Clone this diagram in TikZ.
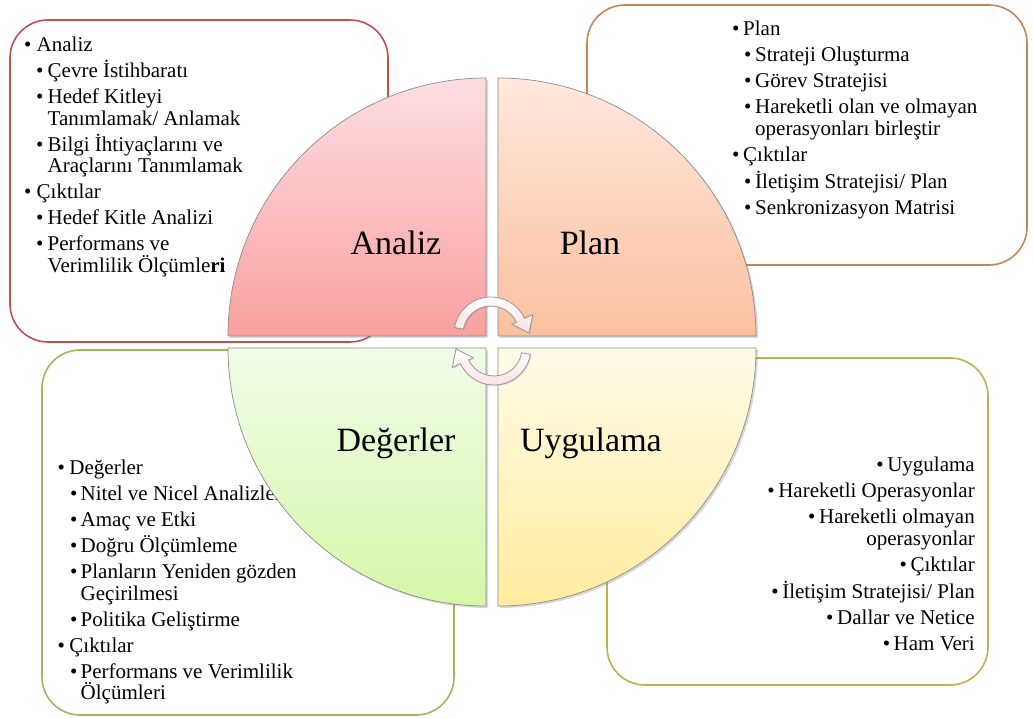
\documentclass[tikz,border=0pt]{standalone}
\usepackage{fontspec}
\setmainfont{Liberation Serif}
\usetikzlibrary{positioning}
\usetikzlibrary{shadows}

\definecolor{boxred}{RGB}{192,80,77}
\definecolor{boxorange}{RGB}{198,134,82}
\definecolor{boxgreen}{RGB}{155,187,89}
\definecolor{boxolive}{RGB}{190,178,80}
\definecolor{anaTop}{RGB}{253,222,226}
\definecolor{anaBot}{RGB}{250,160,160}
\definecolor{plaTop}{RGB}{255,232,222}
\definecolor{plaBot}{RGB}{250,192,158}
\definecolor{degTop}{RGB}{240,251,232}
\definecolor{degBot}{RGB}{214,247,168}
\definecolor{uygTop}{RGB}{255,251,232}
\definecolor{uygBot}{RGB}{255,236,158}
\definecolor{arrowPink}{RGB}{250,222,228}

\newlength{\bulwidth}\newlength{\subindent}\newlength{\subwidth}
\newcommand{\toppoint}[1]{\hangindent=\bulwidth\hangafter=1\noindent\makebox[\bulwidth][l]{•}#1\par}
\newcommand{\subpoint}[1]{\hangindent=\dimexpr\subindent+\subwidth\relax\hangafter=1\noindent\hspace*{\subindent}\makebox[\subwidth][l]{•}#1\par}
\newcommand{\rightpoint}[1]{\noindent\makebox[11pt][l]{•}#1\par}

\tikzstyle{infobox} = [rounded corners=38pt, line width=1.6pt, fill=white]
\tikzstyle{bullettext} = [inner sep=0pt, align=flush left, font=\fontsize{21}{21.5}\selectfont]
\tikzstyle{quadrant} = [draw=black!45, line width=0.7pt, drop shadow={opacity=0.3, shadow xshift=2pt, shadow yshift=-2pt}]
\tikzstyle{biglabel} = [inner sep=0pt, anchor=base, font=\fontsize{34}{40}\selectfont]
\tikzstyle{cyclearrow} = [draw=black!40, line width=0.8pt, top color=white, bottom color=arrowPink, drop shadow={opacity=0.25, shadow xshift=1pt, shadow yshift=-1pt}]

\begin{document}
\begin{tikzpicture}[x=1pt,y=1pt]
\useasboundingbox (0,0) rectangle (1033,718);
\fill[white] (0,0) rectangle (1033,718);

% boxes
\draw[infobox, draw=boxred] (10,376) rectangle (388,698);
\draw[infobox, draw=boxorange] (587,453) rectangle (1027,713);
\draw[infobox, draw=boxgreen] (42,3) rectangle (454,368);
\draw[infobox, draw=boxolive] (607,33) rectangle (988,360);

\node[bullettext, text width=240pt, anchor=base west] (txtAnaliz) at (24,666) {%
\setlength{\parskip}{4.5pt}\setlength{\bulwidth}{12.5pt}\setlength{\subindent}{12pt}\setlength{\subwidth}{11.5pt}%
\toppoint{Analiz}
\subpoint{Çevre İstihbaratı}
\subpoint{Hedef Kitleyi\newline Tanımlamak/ Anlamak}
\subpoint{Bilgi İhtiyaçlarını ve\newline Araçlarını Tanımlamak}
\toppoint{Çıktılar}
\subpoint{Hedef Kitle Analizi}
\subpoint{Performans ve\newline Verimlilik Ölçümle\textbf{ri}}};

\node[bullettext, text width=270pt, anchor=base west] (txtPlan) at (732,682) {%
\setlength{\parskip}{4.5pt}\setlength{\bulwidth}{11pt}\setlength{\subindent}{12pt}\setlength{\subwidth}{11pt}%
\toppoint{Plan}
\subpoint{Strateji Oluşturma}
\subpoint{Görev Stratejisi}
\subpoint{Hareketli olan ve olmayan\newline operasyonları birleştir}
\toppoint{Çıktılar}
\subpoint{İletişim Stratejisi/ Plan}
\subpoint{Senkronizasyon Matrisi}};

\node[bullettext, text width=280pt, anchor=base west] (txtDegerler) at (57.5,243) {%
\setlength{\parskip}{4.5pt}\setlength{\bulwidth}{11.8pt}\setlength{\subindent}{12.5pt}\setlength{\subwidth}{10.5pt}%
\toppoint{Değerler}
\subpoint{Nitel ve Nicel Analizler}
\subpoint{Amaç ve Etki}
\subpoint{Doğru Ölçümleme}
\subpoint{Planların Yeniden gözden\newline Geçirilmesi}
\subpoint{Politika Geliştirme}
\toppoint{Çıktılar}
\subpoint{Performans ve Verimlilik\newline Ölçümleri}};

\node[bullettext, align=flush right, text width=250pt, anchor=base east] (txtUygulama) at (975,246) {%
\setlength{\parskip}{4.5pt}%
\rightpoint{Uygulama}
\rightpoint{Hareketli Operasyonlar}
\rightpoint{Hareketli olmayan\\operasyonlar}
\rightpoint{Çıktılar}
\rightpoint{İletişim Stratejisi/ Plan}
\rightpoint{Dallar ve Netice}
\rightpoint{Ham Veri}};

% circle quarters
\path[quadrant, top color=anaTop, bottom color=anaBot] (486,382) -- (228,382) arc[start angle=180, end angle=90, radius=258] -- cycle;
\path[quadrant, top color=plaTop, bottom color=plaBot] (498,382) -- (498,640) arc[start angle=90, end angle=0, radius=258] -- cycle;
\path[quadrant, top color=degTop, bottom color=degBot] (486,370) -- (228,370) arc[start angle=180, end angle=270, radius=258] -- cycle;
\path[quadrant, top color=uygTop, bottom color=uygBot] (498,370) -- (756,370) arc[start angle=0, end angle=-90, radius=258] -- cycle;

\node[biglabel] (labAnaliz) at (396,463) {Analiz};
\node[biglabel] (labPlan) at (590,463) {Plan};
\node[biglabel] (labDegerler) at (396,266) {Değerler};
\node[biglabel] (labUygulama) at (591,266) {Uygulama};

% cycle arrows
\begin{scope}[shift={(491,384)}]
\path[cyclearrow] (170:37) arc[start angle=170, end angle=25, radius=37] -- (25:46) -- (38,1) -- (25:23) -- (25:28) arc[start angle=25, end angle=170, radius=28] -- cycle;
\end{scope}
\begin{scope}[shift={(494,370)}, rotate=180]
\path[cyclearrow] (170:37) arc[start angle=170, end angle=25, radius=37] -- (25:46) -- (38,1) -- (25:23) -- (25:28) arc[start angle=25, end angle=170, radius=28] -- cycle;
\end{scope}
\end{tikzpicture}
\end{document}
